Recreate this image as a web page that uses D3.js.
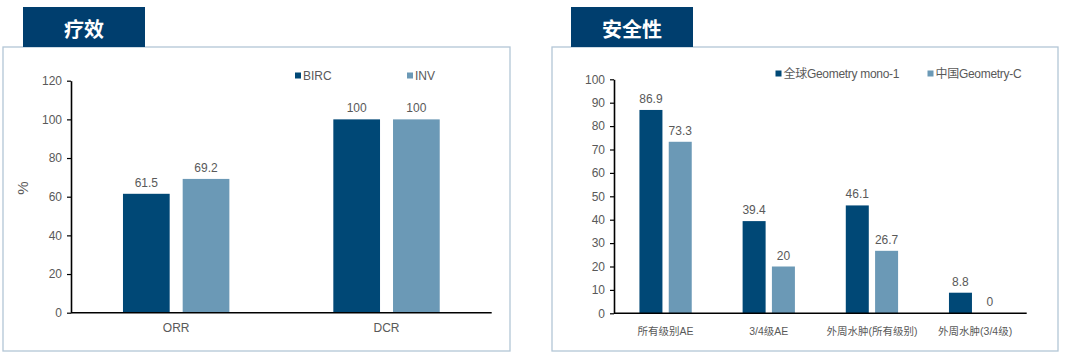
<!DOCTYPE html>
<html><head><meta charset="utf-8">
<script src="https://cdn.jsdelivr.net/npm/d3@7"></script>
<style>
body{margin:0;background:#fff;}
svg{display:block;font-family:Arial,"Liberation Sans","Noto Sans CJK SC",sans-serif;}
</style></head><body>
<svg id="c" width="1080" height="355"></svg>
<script>
// Efficacy panel data
const effCategories = ["ORR", "DCR"];
const effSeries = ["BIRC", "INV"];
const effBIRC = [61.5, 100];
const effINV = [69.2, 100];
const effTicks = [0, 20, 40, 60, 80, 100, 120];

// Safety panel data
const safCategories = ["所有级别AE", "3/4级AE", "外周水肿(所有级别)", "外周水肿(3/4级)"];
const safSeries = ["全球Geometry mono-1", "中国Geometry-C"];
const safGlobal = [86.9, 39.4, 46.1, 8.8];
const safChina = [73.3, 20, 26.7, 0];
const safTicks = [0, 10, 20, 30, 40, 50, 60, 70, 80, 90, 100];

const DARK = "#004876", LIGHT = "#6b99b6", TAB = "#003e6e", BORDER = "#b3c6d6", TXT = "#595959";
const svg = d3.select("#c");

function panel(o) {
  const g = svg.append("g");
  // border
  g.append("rect").attr("x", o.box[0]).attr("y", o.box[1]).attr("width", o.box[2]).attr("height", o.box[3])
    .attr("fill", "#fff").attr("stroke", BORDER).attr("stroke-width", 1.3);
  // tab
  g.append("rect").attr("x", o.tab[0]).attr("y", o.tab[1]).attr("width", o.tab[2]).attr("height", o.tab[3]).attr("fill", TAB);
  g.append("text").attr("x", o.tab[0] + o.tab[2] / 2).attr("y", o.tab[1] + o.tab[3] / 2 + 1)
    .attr("text-anchor", "middle").attr("dominant-baseline", "central")
    .attr("fill", "#fff").attr("font-size", 20).attr("font-weight", "bold")
    .attr("font-family", "'Noto Sans CJK SC',sans-serif").text(o.title);

  const y = d3.scaleLinear().domain([0, o.ymax]).range([o.y0, o.y1]);
  const x0 = d3.scaleBand().domain(o.cats).range([o.xL, o.xR]).padding(0);
  const bw = o.barW, gap = o.gap;

  // y axis
  const ya = g.append("g").attr("transform", `translate(${o.xL},0)`)
    .call(d3.axisLeft(y).tickValues(o.ticks).tickSize(4).tickSizeOuter(0).tickPadding(5));
  ya.select(".domain").attr("stroke", "#000").attr("stroke-width", 1.6);
  ya.selectAll(".tick line").attr("stroke", "#000").attr("stroke-width", 1.2);
  ya.selectAll(".tick text").attr("fill", TXT).attr("font-size", 12).attr("font-family", "Arial,'Liberation Sans',sans-serif");

  // bars
  const sers = [o.s1, o.s2], cols = [DARK, LIGHT];
  sers.forEach((vals, si) => {
    g.selectAll(null).data(vals).enter().append("rect")
      .attr("x", (d, i) => x0(o.cats[i]) + x0.bandwidth() / 2 + (si === 0 ? -(bw + gap / 2) : gap / 2))
      .attr("y", d => y(d)).attr("width", bw).attr("height", d => y(0) - y(d))
      .attr("fill", cols[si]);
    g.selectAll(null).data(vals).enter().append("text")
      .attr("x", (d, i) => x0(o.cats[i]) + x0.bandwidth() / 2 + (si === 0 ? -(bw / 2 + gap / 2) : gap / 2 + bw / 2))
      .attr("y", d => y(d) - 7).attr("text-anchor", "middle")
      .attr("fill", TXT).attr("font-size", 12).text(d => d);
  });

  // x axis line
  g.append("line").attr("x1", o.xL).attr("x2", o.xR).attr("y1", y(0)).attr("y2", y(0))
    .attr("stroke", "#000").attr("stroke-width", 1.6);
  g.selectAll(null).data(o.cats).enter().append("text")
    .attr("x", d => x0(d) + x0.bandwidth() / 2).attr("y", o.catY)
    .attr("text-anchor", "middle").attr("dominant-baseline", "central")
    .attr("fill", TXT).attr("font-size", o.catSize).text(d => d);

  // legend
  o.series.forEach((s, i) => {
    g.append("rect").attr("x", o.leg[i]).attr("y", o.legY - 3).attr("width", 6).attr("height", 6).attr("fill", cols[i]);
    g.append("text").attr("x", o.leg[i] + 8).attr("y", o.legY).attr("dominant-baseline", "central")
      .attr("fill", TXT).attr("font-size", 12).attr("letter-spacing", o.legLS || 0).text(s);
  });
  return g;
}

panel({
  box: [3, 47, 507, 304], tab: [23, 7, 122, 40], title: "疗效",
  ymax: 120, y0: 312.7, y1: 80.7, xL: 71, xR: 491.7, cats: effCategories,
  s1: effBIRC, s2: effINV, ticks: effTicks, barW: 46.7, gap: 13,
  catY: 328, catSize: 12, series: effSeries, leg: [295, 407], legY: 75.5
});
svg.append("text").attr("transform", "translate(22,188) rotate(-90)").attr("text-anchor", "middle")
  .attr("dominant-baseline", "central").attr("fill", TXT).attr("font-size", 15).text("%");

panel({
  box: [552, 47, 506, 304], tab: [571, 7, 122, 40], title: "安全性",
  ymax: 100, y0: 313.3, y1: 79.3, xL: 614, xR: 1026.7, cats: safCategories,
  s1: safGlobal, s2: safChina, ticks: safTicks, barW: 23, gap: 6.3,
  catY: 331, catSize: 10.5, series: safSeries, leg: [775.5, 927.5], legY: 73.5, legLS: -0.3
});
</script></body></html>
